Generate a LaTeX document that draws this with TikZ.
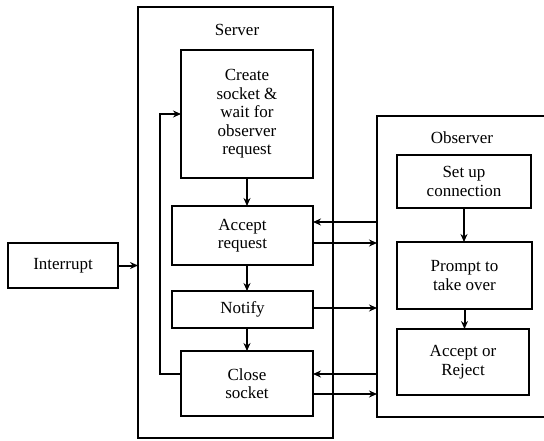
\documentclass[tikz,border=0pt]{standalone}
\usepackage{fontspec}
\setmainfont{Liberation Serif}
\usetikzlibrary{arrows.meta}

\colorlet{boxcolor}{black}
\colorlet{linecolor}{black}
\tikzset{boxbase/.style 2 args={shape=rectangle, draw=boxcolor, line width=2pt, inner sep=0pt, outer sep=0pt, minimum width=#1, minimum height=#2},%
    stepbox/.style 2 args={boxbase={#1}{#2}, align=center, font=\fontsize{17}{18.5}\selectfont},%
    frame/.style 2 args={boxbase={#1}{#2}},%
    framelabel/.style={font=\fontsize{17}{18.5}\selectfont, inner sep=0pt},%
    conn/.style={-{Stealth[length=8pt,width=7pt]}, line width=2pt, color=linecolor}%
}

\begin{document}
\begin{tikzpicture}[x=1pt, y=-1pt]
    \useasboundingbox (0,0) rectangle (544,441);
    \begin{scope} %outer frames, observer runs off to the right
        \node[frame={195pt}{431pt}] (server) at (235.5,222.5) {};
        \node[frame={175pt}{301pt}] (observer) at (464.5,266.5) {};
        \node[framelabel] (serverlabel) at (237,30) {Server};
        \node[framelabel] (observerlabel) at (462,138) {Observer};
    \end{scope}
    \begin{scope} %draw steps
        \node[stepbox={132pt}{128pt}] (create) at (247,114) {Create\\socket \&\\wait for\\observer\\request};
        \node[stepbox={141pt}{59pt}] (accept) at (242.5,235.5) {Accept\\request};
        \node[stepbox={141pt}{37pt}] (notify) at (242.5,309.5) {Notify};
        \node[stepbox={132pt}{65pt}] (close) at (247,383.5) {Close\\socket};
        \node[stepbox={110pt}{45pt}] (interrupt) at (63,265.5) {Interrupt};
        \node[stepbox={134pt}{53pt}] (setup) at (464,181.5) {Set up\\connection};
        \node[stepbox={135pt}{67pt}] (prompt) at (464.5,275.5) {Prompt to\\take over};
        \node[stepbox={132pt}{66pt}] (decide) at (463,362) {Accept or\\Reject};
    \end{scope}
    \begin{scope} %draw connections
        \foreach \upper/\lower in {create/accept, accept/notify, notify/close}
            \path (create.south |- \upper.south) edge[conn] (create.south |- \lower.north);
        \draw[conn] ([yshift=10pt]close.west) -- ++(-21,0) |- (create.west);
        \path (interrupt.east) edge[conn] (interrupt.east -| server.west);
        \path (setup.south) edge[conn] (setup.south |- prompt.north);
        \path (prompt.south) edge[conn] (prompt.south |- decide.north);
    \end{scope}
    \begin{scope} %server <-> observer messages
        \path ([yshift=13.5pt]accept.east -| observer.west) edge[conn] ([yshift=13.5pt]accept.east);
        \path ([yshift=-7.5pt]accept.east) edge[conn] ([yshift=-7.5pt]accept.east -| observer.west);
        \path ([yshift=1.5pt]notify.east) edge[conn] ([yshift=1.5pt]notify.east -| observer.west);
        \path ([yshift=9.5pt]close.east -| observer.west) edge[conn] ([yshift=9.5pt]close.east);
        \path ([yshift=-10.5pt]close.east) edge[conn] ([yshift=-10.5pt]close.east -| observer.west);
    \end{scope}
\end{tikzpicture}
\end{document}
